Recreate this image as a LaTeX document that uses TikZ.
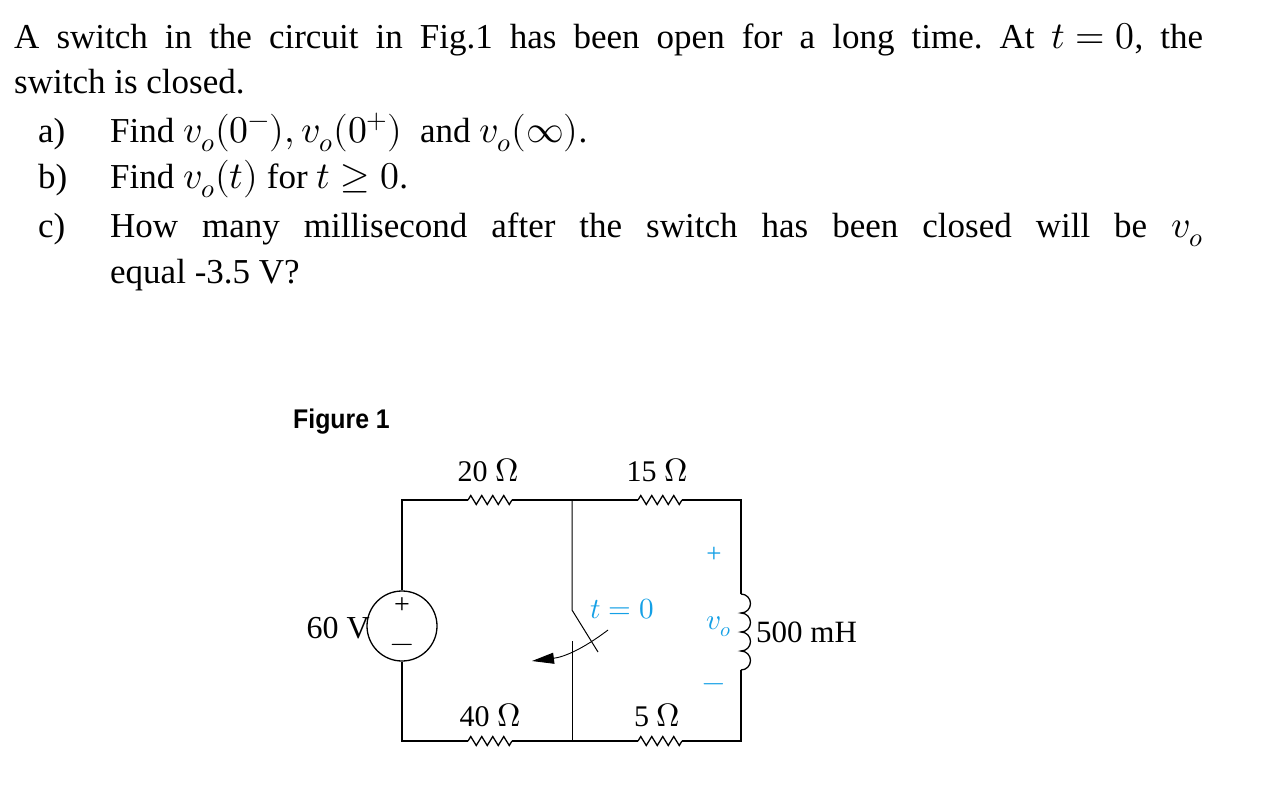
\documentclass[tikz,border=0pt]{standalone}
\usepackage{unicode-math}
\setmainfont{Liberation Serif}
\setmathfont[Scale=1.08]{Latin Modern Math}
\newfontfamily\figfont{Liberation Sans}
\usetikzlibrary{decorations.pathmorphing, arrows.meta}
\definecolor{labelblue}{RGB}{20,160,230}
\frenchspacing
\tikzset{
  wire/.style={line width=1.3pt},
  resistor/.style={line width=1.3pt, decorate, decoration={zigzag, amplitude=4.5pt, segment length=11pt}},
  textline/.style={anchor=base west, inner sep=0pt, font=\fontsize{35}{46}\selectfont},
  rlabel/.style={font=\fontsize{30}{34}\selectfont},
  bluelabel/.style={text=labelblue, font=\fontsize{27}{30}\selectfont}
}
\begin{document}
\begin{tikzpicture}[x=1pt, y=-1pt]
  \useasboundingbox[fill=white] (0,0) rectangle (1288,809);
  % question text
  \node[textline] (l1) at (14,48) {\makebox[1189pt][s]{A switch in the circuit in Fig.1 has been open for a long time. At \mbox{$t = 0$}, the}};
  \node[textline] (l2) at (14,93) {switch is closed.};
  \node[textline] (la) at (38,142) {\makebox[72pt][l]{a)}Find \mbox{$v_o(0^-), v_o(0^+)$}\ \ and \mbox{$v_o(\infty)$}.};
  \node[textline] (lb) at (38,188) {\makebox[72pt][l]{b)}Find \mbox{$v_o(t)$} for \mbox{$t \geq 0$}.};
  \node[textline] (lc0) at (38,237) {c)};
  \node[textline] (lc) at (110,237) {\makebox[1093pt][s]{How many millisecond after the switch has been closed will be \mbox{$v_o$}}};
  \node[textline] (ld) at (110,283) {equal -3.5 V?};
  % figure title
  \node[anchor=base west, inner sep=0pt, font=\figfont\bfseries\fontsize{27}{30}\selectfont] (fig) at (293,428) {\scalebox{0.92}[1]{Figure 1}};
  % corners and junctions
  \coordinate (tl) at (402,500);
  \coordinate (tm) at (572,500);
  \coordinate (tr) at (741,500);
  \coordinate (bl) at (402,741);
  \coordinate (bm) at (572,741);
  \coordinate (br) at (741,741);
  \coordinate (swtop) at (572,610);
  \coordinate (swend) at (598,652);
  \coordinate (swbot) at (572,641);
  \coordinate (ltop) at (741,594);
  \coordinate (lbot) at (741,670);
  % source
  \node[draw, wire, circle, minimum size=70pt, inner sep=0pt] (src) at (402,626) {};
  \node[font=\fontsize{28}{30}\selectfont, inner sep=0pt] at (402,606) {+};
  \node[font=\fontsize{28}{30}\selectfont, inner sep=0pt] at (402,648) {$-$};
  \node[font=\fontsize{32}{34}\selectfont, anchor=east, inner sep=0pt] (vs) at (370,628) {60 V};
  % top branch
  \draw[wire] (src.north) -- (tl) -- (468,500);
  \draw[resistor] (468,500) -- (512,500);
  \draw[wire] (512,500) -- (tm) -- (638,500);
  \draw[resistor] (638,500) -- (682,500);
  \draw[wire] (682,500) -- (tr) -- (ltop);
  % bottom branch
  \draw[wire] (src.south) -- (bl) -- (468,741);
  \draw[resistor] (468,741) -- (512,741);
  \draw[wire] (512,741) -- (bm) -- (638,741);
  \draw[resistor] (638,741) -- (682,741);
  \draw[wire] (682,741) -- (br) -- (lbot);
  % switch
  \draw[line width=1pt] (tm) -- (swtop) -- (swend);
  \draw[line width=1pt] (swbot) -- (bm);
  \draw[line width=0.9pt, -{Triangle[length=22pt, width=11pt]}] (608,630) to[bend left=15] (532,661);
  \node[bluelabel] (sw) at (622,609) {$t = 0$};
  % inductor
  \draw[wire] (ltop) arc(-90:90:9.5) arc(-90:90:9.5) arc(-90:90:9.5) arc(-90:90:9.5);
  \node[font=\fontsize{31}{34}\selectfont, anchor=west, inner sep=0pt] (lval) at (756,632) {500 mH};
  \node[bluelabel] (vp) at (714,555) {+};
  \node[bluelabel] (vo) at (719,627) {$v_o$};
  \node[bluelabel] (vm) at (714,688) {$-$};
  % resistor labels
  \node[rlabel] (r20) at (488,470) {20 $\Omega$};
  \node[rlabel] (r15) at (657,470) {15 $\Omega$};
  \node[rlabel] (r40) at (490,715) {40 $\Omega$};
  \node[rlabel] (r5) at (657,715) {5 $\Omega$};
\end{tikzpicture}
\end{document}
